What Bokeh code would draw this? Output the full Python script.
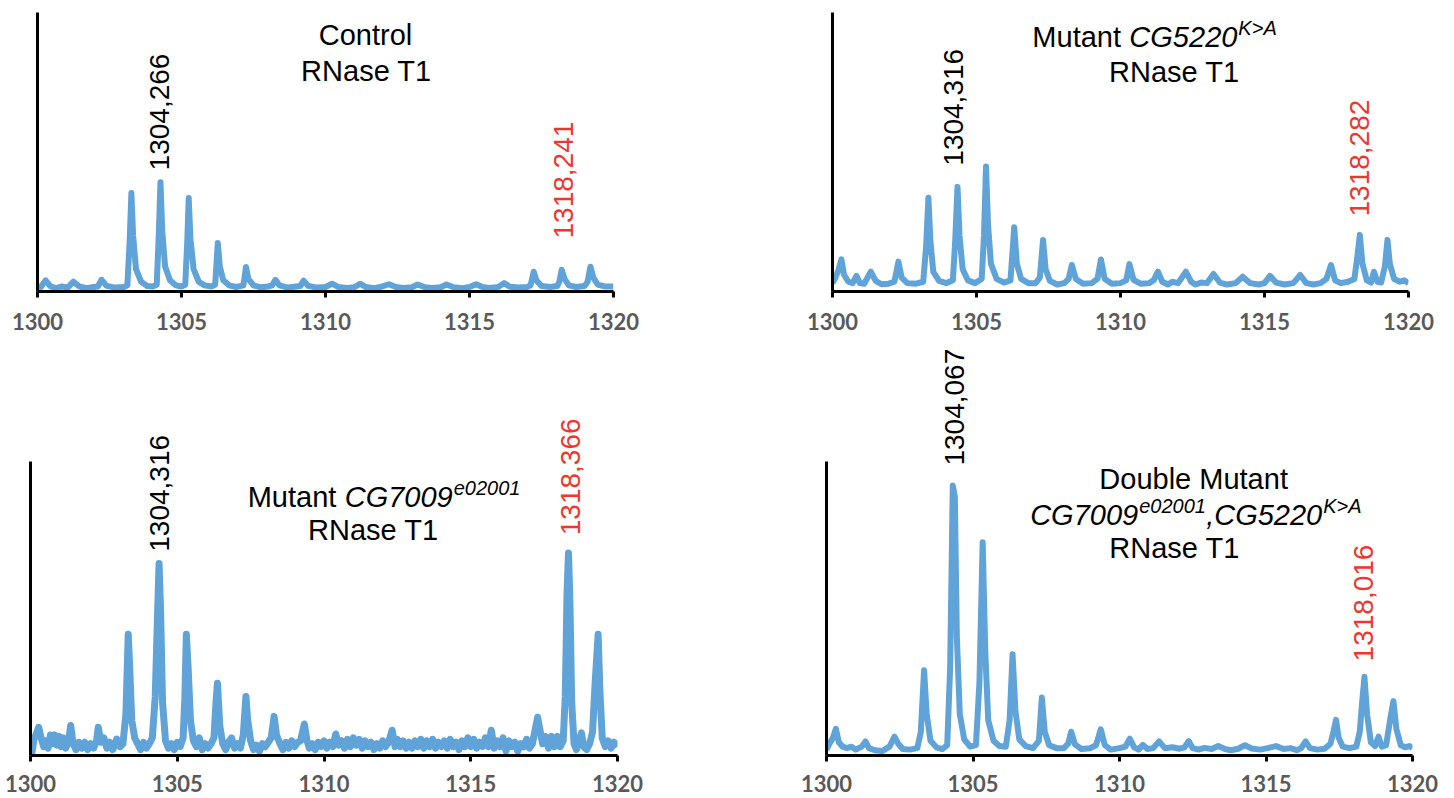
import math
from bokeh.plotting import figure
from bokeh.models import Label, FixedTicker, Range1d
from bokeh.layouts import column, row
from bokeh.embed import file_html
from bokeh.resources import INLINE

# ---------------- data ----------------
MZ_TICKS = [1300, 1305, 1310, 1315, 1320]
MZ_TICK_LABELS = ["1300", "1305", "1310", "1315", "1320"]

PEAK_LABELS_BLACK = ["1304,266", "1304,316", "1304,316", "1304,067"]
PEAK_LABELS_RED = ["1318,241", "1318,282", "1318,366", "1318,016"]

# Control (relative intensity, % of axis height)
CONTROL_MZ = [1300.00, 1300.12, 1300.28, 1300.45, 1300.65, 1300.85, 1301.05, 1301.24, 1301.45, 1301.70,
              1301.95, 1302.10, 1302.22, 1302.40, 1302.70, 1303.00, 1303.12, 1303.20, 1303.26, 1303.32,
              1303.42, 1303.60, 1303.80, 1304.00, 1304.14, 1304.21, 1304.27, 1304.33, 1304.43, 1304.60,
              1304.80, 1305.00, 1305.13, 1305.20, 1305.25, 1305.31, 1305.42, 1305.60, 1305.80, 1306.05,
              1306.17, 1306.26, 1306.33, 1306.45, 1306.65, 1306.90, 1307.15, 1307.24, 1307.32, 1307.50,
              1307.75, 1308.00, 1308.15, 1308.26, 1308.40, 1308.70, 1309.00, 1309.13, 1309.24, 1309.40,
              1309.70, 1310.00, 1310.23, 1310.45, 1310.75, 1311.00, 1311.20, 1311.40, 1311.70, 1311.90,
              1312.20, 1312.45, 1312.70, 1313.00, 1313.20, 1313.45, 1313.70, 1314.00, 1314.20, 1314.45,
              1314.75, 1315.00, 1315.23, 1315.45, 1315.70, 1316.00, 1316.20, 1316.40, 1316.70, 1317.00,
              1317.12, 1317.23, 1317.32, 1317.50, 1317.80, 1318.05, 1318.12, 1318.20, 1318.30, 1318.45,
              1318.70, 1319.00, 1319.10, 1319.20, 1319.30, 1319.45, 1319.70, 1320.00]
CONTROL_INT = [1.8, 1.6, 4.0, 1.8, 1.2, 1.8, 1.4, 3.5, 1.8, 1.2,
               1.6, 1.8, 4.2, 2.0, 1.4, 1.6, 2.2, 18.0, 35.3, 20.0,
               8.0, 3.5, 2.0, 1.8, 2.4, 20.0, 39.2, 22.0, 9.0, 4.0,
               2.2, 1.8, 2.4, 18.0, 33.5, 19.0, 8.0, 3.5, 2.2, 1.8,
               2.5, 17.4, 9.0, 4.0, 2.2, 1.6, 2.2, 8.8, 4.5, 2.2,
               1.5, 1.8, 2.2, 4.2, 2.2, 1.4, 1.8, 2.0, 3.9, 2.0,
               1.4, 1.6, 2.8, 1.6, 1.3, 1.5, 2.8, 1.6, 1.2, 1.6,
               2.6, 1.6, 1.3, 1.5, 2.5, 1.5, 1.3, 1.5, 2.5, 1.5,
               1.2, 1.6, 2.6, 1.6, 1.3, 1.6, 3.0, 1.7, 1.4, 1.6,
               2.2, 7.1, 4.0, 2.0, 1.6, 2.0, 3.5, 7.8, 4.5, 2.2,
               1.6, 2.0, 3.5, 8.9, 5.0, 2.5, 1.8, 1.8]

# Mutant CG5220 K>A
CG5220_MZ = [1300.00, 1300.10, 1300.20, 1300.31, 1300.40, 1300.55, 1300.70, 1300.83, 1300.95, 1301.10,
             1301.33, 1301.50, 1301.70, 1301.95, 1302.15, 1302.29, 1302.40, 1302.60, 1302.90, 1303.15,
             1303.25, 1303.33, 1303.40, 1303.50, 1303.70, 1303.95, 1304.18, 1304.26, 1304.34, 1304.41,
             1304.52, 1304.70, 1304.95, 1305.18, 1305.26, 1305.33, 1305.40, 1305.50, 1305.70, 1305.95,
             1306.18, 1306.31, 1306.40, 1306.55, 1306.80, 1307.05, 1307.20, 1307.31, 1307.40, 1307.55,
             1307.80, 1308.05, 1308.20, 1308.31, 1308.45, 1308.70, 1309.00, 1309.20, 1309.32, 1309.45,
             1309.70, 1310.00, 1310.20, 1310.31, 1310.45, 1310.70, 1311.00, 1311.15, 1311.30, 1311.45,
             1311.65, 1311.80, 1312.00, 1312.27, 1312.45, 1312.60, 1312.80, 1313.00, 1313.23, 1313.45,
             1313.70, 1314.00, 1314.24, 1314.50, 1314.80, 1315.00, 1315.19, 1315.40, 1315.70, 1316.00,
             1316.24, 1316.45, 1316.70, 1316.95, 1317.15, 1317.31, 1317.45, 1317.65, 1317.90, 1318.12,
             1318.22, 1318.31, 1318.40, 1318.55, 1318.70, 1318.80, 1318.92, 1319.05, 1319.18, 1319.27,
             1319.35, 1319.50, 1319.70, 1319.85, 1320.00]
CG5220_INT = [3.0, 5.0, 7.5, 11.5, 6.0, 3.5, 3.0, 5.6, 3.0, 2.8,
              7.1, 3.8, 2.6, 2.8, 3.5, 10.7, 5.0, 3.0, 2.8, 3.5,
              16.0, 33.6, 18.0, 7.0, 3.8, 3.0, 4.0, 18.0, 37.5, 20.0,
              8.0, 4.0, 3.0, 4.5, 20.0, 44.8, 24.0, 10.0, 4.5, 3.2,
              4.0, 23.0, 10.0, 4.5, 3.0, 3.0, 5.0, 18.5, 8.0, 3.8,
              2.5, 3.0, 4.5, 9.5, 4.5, 2.8, 3.0, 4.5, 11.5, 4.5,
              2.8, 3.0, 4.0, 9.8, 4.2, 2.8, 3.0, 4.0, 7.1, 3.5,
              2.5, 3.5, 3.0, 7.1, 3.5, 2.5, 3.2, 3.0, 6.3, 3.2,
              2.5, 3.0, 5.3, 3.0, 2.5, 3.0, 5.6, 3.2, 2.5, 3.0,
              5.9, 3.0, 2.5, 3.0, 4.5, 9.5, 4.0, 3.0, 3.5, 4.5,
              12.0, 20.3, 10.0, 4.0, 3.2, 7.1, 3.5, 3.2, 9.0, 18.5,
              10.0, 4.5, 3.5, 4.0, 3.0]

# Mutant CG7009 e02001
CG7009_MZ = [1300.00, 1300.05, 1300.12, 1300.20, 1300.28, 1300.36, 1300.45, 1300.52, 1300.60, 1300.68,
             1300.75, 1300.82, 1300.90, 1300.98, 1301.05, 1301.12, 1301.20, 1301.30, 1301.37, 1301.45,
             1301.55, 1301.65, 1301.75, 1301.85, 1301.95, 1302.05, 1302.15, 1302.25, 1302.31, 1302.40,
             1302.50, 1302.60, 1302.70, 1302.80, 1302.94, 1303.05, 1303.15, 1303.25, 1303.33, 1303.38,
             1303.45, 1303.55, 1303.65, 1303.75, 1303.85, 1303.95, 1304.05, 1304.15, 1304.25, 1304.32,
             1304.38, 1304.43, 1304.50, 1304.60, 1304.70, 1304.80, 1304.90, 1305.00, 1305.10, 1305.20,
             1305.26, 1305.31, 1305.37, 1305.45, 1305.55, 1305.65, 1305.75, 1305.85, 1305.95, 1306.05,
             1306.15, 1306.25, 1306.32, 1306.37, 1306.45, 1306.55, 1306.65, 1306.75, 1306.85, 1306.95,
             1307.05, 1307.15, 1307.25, 1307.34, 1307.40, 1307.50, 1307.60, 1307.70, 1307.80, 1307.90,
             1308.00, 1308.10, 1308.20, 1308.30, 1308.38, 1308.50, 1308.60, 1308.70, 1308.80, 1308.90,
             1309.00, 1309.10, 1309.20, 1309.33, 1309.42, 1309.50, 1309.60, 1309.70, 1309.80, 1309.90,
             1310.00, 1310.10, 1310.20, 1310.30, 1310.40, 1310.50, 1310.60, 1310.70, 1310.80, 1310.90,
             1311.00, 1311.10, 1311.20, 1311.30, 1311.40, 1311.50, 1311.60, 1311.70, 1311.80, 1311.90,
             1312.00, 1312.10, 1312.20, 1312.32, 1312.42, 1312.50, 1312.60, 1312.70, 1312.80, 1312.90,
             1313.00, 1313.10, 1313.20, 1313.30, 1313.40, 1313.50, 1313.60, 1313.70, 1313.80, 1313.90,
             1314.00, 1314.10, 1314.20, 1314.30, 1314.40, 1314.50, 1314.60, 1314.70, 1314.80, 1314.90,
             1315.00, 1315.10, 1315.20, 1315.30, 1315.40, 1315.50, 1315.60, 1315.70, 1315.80, 1315.90,
             1316.00, 1316.10, 1316.20, 1316.30, 1316.40, 1316.50, 1316.60, 1316.70, 1316.80, 1316.90,
             1317.00, 1317.10, 1317.18, 1317.28, 1317.35, 1317.45, 1317.55, 1317.65, 1317.75, 1317.85,
             1317.95, 1318.05, 1318.15, 1318.22, 1318.28, 1318.33, 1318.38, 1318.44, 1318.52, 1318.60,
             1318.68, 1318.77, 1318.85, 1318.95, 1319.05, 1319.15, 1319.24, 1319.34, 1319.40, 1319.48,
             1319.58, 1319.68, 1319.78, 1319.88, 1320.00]
CG7009_INT = [3.5, 1.0, 5.5, 7.5, 9.6, 6.0, 3.0, 5.0, 2.5, 7.0,
              4.0, 7.0, 3.5, 6.5, 3.0, 6.0, 2.5, 5.0, 10.2, 4.0,
              2.0, 4.5, 2.5, 4.5, 2.0, 4.0, 2.5, 5.0, 9.6, 4.5,
              6.0, 2.5, 4.5, 2.0, 5.6, 3.0, 4.0, 14.0, 41.2, 30.0,
              12.0, 6.0, 4.0, 2.0, 4.5, 2.5, 4.0, 6.0, 20.0, 45.0,
              65.3, 50.0, 18.0, 5.0, 2.5, 4.0, 2.0, 4.5, 3.0, 6.0,
              20.0, 41.2, 30.0, 12.0, 5.0, 3.0, 6.0, 2.0, 4.0, 2.5,
              4.0, 6.0, 18.0, 24.6, 10.0, 4.0, 2.0, 4.5, 6.0, 2.5,
              4.0, 2.5, 7.0, 20.1, 12.0, 5.0, 2.0, 3.5, 1.5, 4.0,
              3.0, 4.5, 6.0, 13.3, 7.0, 4.0, 2.0, 4.5, 2.5, 5.0,
              3.0, 4.5, 5.0, 10.7, 5.0, 2.5, 4.0, 2.0, 4.5, 3.0,
              5.0, 2.5, 4.5, 3.0, 7.3, 3.5, 5.0, 2.5, 5.5, 3.0,
              6.0, 3.5, 5.5, 2.5, 5.0, 3.0, 4.5, 2.0, 4.0, 2.5,
              5.0, 3.0, 4.5, 8.6, 3.0, 5.5, 3.0, 5.0, 2.5, 4.5,
              2.5, 5.0, 3.0, 5.5, 2.5, 5.0, 3.0, 5.5, 2.5, 4.5,
              3.0, 5.0, 2.5, 5.5, 3.0, 4.5, 2.0, 5.0, 3.0, 6.0,
              3.0, 5.5, 2.5, 4.5, 3.0, 6.0, 3.0, 8.6, 2.5, 5.0,
              3.0, 6.0, 1.5, 5.0, 3.0, 4.5, 1.5, 4.0, 3.0, 5.5,
              2.5, 4.0, 8.0, 13.0, 9.0, 4.0, 6.5, 2.5, 6.5, 3.0,
              6.5, 3.0, 5.0, 20.0, 55.0, 68.9, 52.0, 18.0, 4.0, 2.0,
              4.5, 7.7, 3.0, 2.0, 4.0, 8.0, 25.0, 41.2, 22.0, 6.0,
              3.0, 5.0, 2.5, 4.5, 3.0]

# Double mutant
DOUBLE_MZ = [1300.00, 1300.10, 1300.22, 1300.32, 1300.42, 1300.55, 1300.70, 1300.85, 1301.00, 1301.20,
             1301.33, 1301.45, 1301.65, 1301.90, 1302.15, 1302.32, 1302.45, 1302.60, 1302.85, 1303.10,
             1303.22, 1303.33, 1303.42, 1303.55, 1303.75, 1303.95, 1304.12, 1304.22, 1304.31, 1304.38,
             1304.45, 1304.55, 1304.70, 1304.90, 1305.10, 1305.22, 1305.33, 1305.42, 1305.52, 1305.70,
             1305.90, 1306.12, 1306.25, 1306.35, 1306.45, 1306.58, 1306.80, 1307.05, 1307.25, 1307.35,
             1307.45, 1307.60, 1307.85, 1308.10, 1308.25, 1308.35, 1308.48, 1308.70, 1309.00, 1309.20,
             1309.36, 1309.50, 1309.70, 1310.00, 1310.20, 1310.35, 1310.50, 1310.65, 1310.80, 1310.95,
             1311.15, 1311.35, 1311.55, 1311.80, 1312.05, 1312.22, 1312.36, 1312.50, 1312.70, 1312.90,
             1313.15, 1313.37, 1313.60, 1313.80, 1314.05, 1314.28, 1314.50, 1314.80, 1315.05, 1315.34,
             1315.60, 1315.83, 1316.05, 1316.20, 1316.35, 1316.50, 1316.75, 1317.00, 1317.20, 1317.30,
             1317.39, 1317.48, 1317.62, 1317.85, 1318.08, 1318.20, 1318.28, 1318.36, 1318.45, 1318.58,
             1318.72, 1318.84, 1318.95, 1319.10, 1319.25, 1319.35, 1319.45, 1319.60, 1319.75, 1319.90,
             1320.00]
DOUBLE_INT = [2.0, 4.0, 6.0, 9.1, 4.5, 3.0, 2.5, 3.0, 2.0, 3.0,
              4.8, 2.5, 1.8, 1.5, 3.0, 6.4, 4.0, 2.2, 2.0, 2.5,
              8.0, 29.0, 14.0, 5.0, 2.8, 2.2, 3.5, 30.0, 91.8, 88.0,
              40.0, 14.0, 5.5, 3.0, 3.5, 25.0, 72.5, 35.0, 12.0, 5.0,
              3.2, 3.0, 12.0, 34.4, 15.0, 5.5, 3.2, 2.5, 5.0, 19.7,
              8.0, 3.5, 2.5, 2.5, 4.0, 8.1, 3.8, 2.2, 2.5, 3.5,
              8.9, 3.5, 2.0, 2.5, 3.0, 5.7, 2.8, 2.0, 3.6, 2.2,
              2.5, 4.8, 2.5, 2.8, 2.3, 2.8, 4.9, 2.5, 2.0, 2.6,
              2.2, 3.2, 2.2, 1.8, 2.3, 3.5, 2.4, 2.0, 2.5, 3.2,
              2.2, 2.5, 1.8, 2.5, 4.8, 2.5, 2.0, 2.3, 4.0, 8.0,
              12.1, 6.0, 3.0, 2.5, 3.0, 8.0, 18.0, 26.8, 14.0, 4.5,
              3.2, 6.4, 3.0, 3.5, 13.0, 18.5, 9.0, 3.5, 2.8, 3.2,
              2.5]

# ---------------- styling ----------------
BLUE = "#5FA3D9"
RED = "#F0352B"
TITLE_FONT = "Liberation Sans"
TICK_FONT = "Lato"
TITLE_RAISE = 10  # px


def make_panel(xs, ys, width, height, bl, br, bt, bb, ytop, standoff, lw=6):
    p = figure(width=width, height=height,
               x_range=Range1d(1300, 1320), y_range=Range1d(0, ytop),
               output_backend="svg", toolbar_location=None,
               min_border_left=bl, min_border_right=br,
               min_border_top=bt, min_border_bottom=bb)
    p.line(xs, ys, line_color=BLUE, line_width=lw, line_join="round")
    p.xgrid.visible = False
    p.ygrid.visible = False
    p.outline_line_color = None
    p.background_fill_color = "white"
    p.border_fill_color = "white"

    p.yaxis.ticker = FixedTicker(ticks=[])
    p.yaxis.bounds = (0, 100)
    p.yaxis.axis_line_color = "black"
    p.yaxis.axis_line_width = 3
    p.yaxis.major_tick_line_color = None
    p.yaxis.minor_tick_line_color = None

    p.xaxis.ticker = FixedTicker(ticks=MZ_TICKS)
    p.xaxis.major_label_overrides = {t: s for t, s in zip(MZ_TICKS, MZ_TICK_LABELS)}
    p.xaxis.axis_line_color = "black"
    p.xaxis.axis_line_width = 3
    p.xaxis.major_tick_line_color = "black"
    p.xaxis.major_tick_line_width = 3
    p.xaxis.major_tick_out = 6
    p.xaxis.major_tick_in = 0
    p.xaxis.minor_tick_line_color = None
    p.xaxis.major_label_text_font = TICK_FONT
    p.xaxis.major_label_text_font_style = "bold"
    p.xaxis.major_label_text_font_size = "22px"
    p.xaxis.major_label_text_color = "#595959"
    p.xaxis.major_label_standoff = standoff
    return p


def rot_label(p, x, y, text, color):
    p.add_layout(Label(x=x, y=y, text=text, angle=math.pi / 2,
                       text_align="left", text_baseline="middle",
                       text_font=TITLE_FONT, text_font_size="28px",
                       text_color=color))


def text_parts(p, x, y, parts, align="left"):
    # parts: (text, x_offset_px, italic, size_px, y_offset_px)
    for txt, xo, it, size, yo in parts:
        p.add_layout(Label(x=x, y=y, text=txt, x_offset=xo, y_offset=yo + TITLE_RAISE,
                           text_align=align, text_baseline="alphabetic",
                           text_font=TITLE_FONT, text_font_size=f"{size}px",
                           text_font_style="italic" if it else "normal",
                           text_color="black"))


# bottom-row frames extend above the axis top (100) so the labels are not clipped
YTOP_BOTTOM = 141.8

# Panel 1: Control
p1 = make_panel(CONTROL_MZ, CONTROL_INT, 798, 336, 37, 185, 12, 45, 100, 15)
text_parts(p1, 1311.39, 88.2, [("Control", 0, False, 29, 0)], align="center")
text_parts(p1, 1311.42, 75.6, [("RNase T1", 0, False, 29, 0)], align="center")
rot_label(p1, 1304.25, 43.4, PEAK_LABELS_BLACK[0], "black")
rot_label(p1, 1318.26, 19.0, PEAK_LABELS_RED[0], RED)

# Panel 2: Mutant CG5220 K>A
p2 = make_panel(CG5220_MZ, CG5220_INT, 656, 336, 34, 46, 8, 45, 100, 15)
text_parts(p2, 1306.94, 87.5, [("Mutant", 0, False, 29, 0),
                               ("CG5220", 97, True, 29, 0),
                               ("K>A", 206, True, 20, 9)])
text_parts(p2, 1311.87, 75.2, [("RNase T1", 0, False, 29, 0)], align="center")
rot_label(p2, 1304.2, 45.1, PEAK_LABELS_BLACK[1], "black")
rot_label(p2, 1318.3, 26.9, PEAK_LABELS_RED[1], RED)

# Panel 3: Mutant CG7009 e02001
p3 = make_panel(CG7009_MZ, CG7009_INT, 798, 462, 30, 181, 2, 43, YTOP_BOTTOM, 13, lw=7)
text_parts(p3, 1307.40, 84.5, [("Mutant", 0, False, 29, 0),
                               ("CG7009", 97, True, 29, 0),
                               ("e02001", 206, True, 20, 9)])
text_parts(p3, 1311.68, 73.2, [("RNase T1", 0, False, 29, 0)], align="center")
rot_label(p3, 1304.38, 69.3, PEAK_LABELS_BLACK[2], "black")
rot_label(p3, 1318.4, 74.9, PEAK_LABELS_RED[2], RED)

# Panel 4: Double mutant
p4 = make_panel(DOUBLE_MZ, DOUBLE_INT, 656, 462, 28, 42, 2, 43, YTOP_BOTTOM, 13)
text_parts(p4, 1312.53, 90.5, [("Double Mutant", 0, False, 29, 0)], align="center")
text_parts(p4, 1306.95, 78.3, [("CG7009", 0, True, 29, 0),
                               ("e02001", 109, True, 20, 9),
                               (",CG5220", 176, True, 29, 0),
                               ("K>A", 293, True, 20, 9)])
text_parts(p4, 1311.88, 67.1, [("RNase T1", 0, False, 29, 0)], align="center")
rot_label(p4, 1304.37, 98.6, PEAK_LABELS_BLACK[3], "black")
rot_label(p4, 1318.33, 32.0, PEAK_LABELS_RED[3], RED)

layout = column(row(p1, p2), row(p3, p4))
open("out.html", "w").write(file_html(layout, INLINE))
